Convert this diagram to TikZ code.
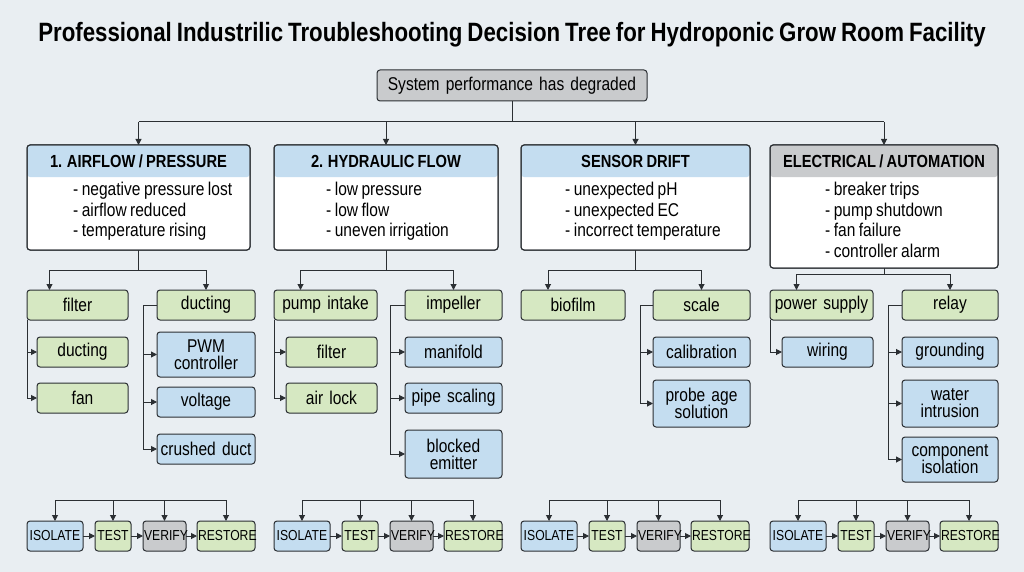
\documentclass[tikz,border=0pt]{standalone}
\usepackage{fontspec}
\setmainfont{Liberation Sans}[FakeStretch=0.84,WordSpace=0.8]
\usetikzlibrary{arrows.meta}
\definecolor{bg}{HTML}{E9EEF2}
\definecolor{gfill}{HTML}{D6E8C2}
\definecolor{bfill}{HTML}{C4DDF0}
\definecolor{gray1}{HTML}{C9CBCD}
\definecolor{lnc}{HTML}{2B2F33}
\tikzset{
 base/.style={draw=lnc,line width=1pt,rounded corners=3pt,inner sep=1pt,outer sep=0pt,align=center,font=\fontsize{18.5}{18}\selectfont},
 gb/.style={base,fill=gfill},
 bb/.style={base,fill=bfill},
 yb/.style={base,fill=gray1},
 arr/.style={draw=lnc,line width=1pt,-{Triangle[length=6pt,width=6pt]}},
 ln/.style={draw=lnc,line width=1pt},
 hdr/.style={base,fill=white},
}
\newcommand\bx[7]{\node[#1,minimum width={(#3)-(#2)},minimum height={(#5)-(#4)},text width={(#3)-(#2)-2}] (#6) at ({((#2)+(#3))/2},{((#4)+(#5))/2}) {#7};}
\newcommand\hdrbox[9]{%
 \node[hdr,minimum width={#3-#2},minimum height={#5-#4},path picture={\fill[#1] (path picture bounding box.north west) rectangle ([yshift=-32pt]path picture bounding box.north east);}] (#6) at ({(#2+#3)/2},{(#4+#5)/2}) {};
 \draw[draw=lnc,line width=1pt,rounded corners=3pt] (#6.north west) rectangle (#6.south east);
 \node[font=\bfseries\fontsize{17.5}{19}\selectfont] (#6t) at ({(#2+#3)/2},{#4+16}) {#7};
 \node[align=left,anchor=north west,font=\fontsize{18.5}{20.5}\selectfont,inner sep=0] (#6b) at ({#2+#9},{#4+37}) {#8};
}
\newcommand\steps[2]{%
 \bx{bb}{27+#1}{83+#1}{521}{551}{#2i}{\fontsize{14.5}{15}\selectfont ISOLATE}
 \bx{gb}{95+#1}{131+#1}{521}{551}{#2t}{\fontsize{14.5}{15}\selectfont TEST}
 \bx{yb}{143+#1}{186+#1}{521}{551}{#2v}{\fontsize{14.5}{15}\selectfont VERIFY}
 \bx{gb}{197+#1}{255+#1}{521}{551}{#2r}{\fontsize{14.5}{15}\selectfont RESTORE}
 \draw[ln] ([yshift=21pt]#2i.north) -- ([yshift=21pt]#2r.north);
 \foreach \s in {i,t,v,r} {\draw[arr] ([yshift=21pt]#2\s.north) -- (#2\s.north);}
 \draw[arr] (#2i) -- (#2t); \draw[arr] (#2t) -- (#2v); \draw[arr] (#2v) -- (#2r);
}
\begin{document}
\begin{tikzpicture}[x=1pt,y=-1pt]
\fill[bg] (0,0) rectangle (1024,572);
\useasboundingbox (0,0) rectangle (1024,572);
\node[font=\bfseries\fontsize{26.5}{28}\selectfont] (title) at (512,35) {Professional Industrilic Troubleshooting Decision Tree for Hydroponic Grow Room Facility};
\bx{yb}{377}{647}{70}{101}{root}{System performance has degraded}

\hdrbox{bfill}{27}{250}{145}{250}{h1}{1. AIRFLOW / PRESSURE}{- negative pressure lost\\- airflow reduced\\- temperature rising}{46}
\hdrbox{bfill}{274}{498}{145}{250}{h2}{2. HYDRAULIC FLOW}{- low pressure\\- low flow\\- uneven irrigation}{52}
\hdrbox{bfill}{521}{750}{145}{250}{h3}{SENSOR DRIFT}{- unexpected pH\\- unexpected EC\\- incorrect temperature}{44}
\hdrbox{gray1}{770}{998}{145}{268}{h4}{ELECTRICAL / AUTOMATION}{- breaker trips\\- pump shutdown\\- fan failure\\- controller alarm}{55}

\draw[ln] (root.south) -- ++(0,21);
\draw[ln] ([yshift=-21pt]root.south -| h1.north) -- ([yshift=-21pt]root.south -| h4.north);
\foreach \h in {h1,h2,h3,h4} {\draw[arr] ([yshift=-21pt]root.south -| \h.north) -- (\h.north);}

% column 1
\bx{gb}{27}{128}{290}{320}{c1a}{filter}
\bx{gb}{157}{255}{290}{320}{c1b}{ducting}
\bx{gb}{37}{128}{337}{367}{c1a1}{ducting}
\bx{gb}{37}{128}{383}{413}{c1a2}{fan}
\bx{bb}{157}{255}{332}{377}{c1b1}{PWM\\[-1pt]controller}
\bx{bb}{157}{255}{387}{417}{c1b2}{voltage}
\bx{bb}{157}{255}{434}{464}{c1b3}{crushed duct}
\draw[ln] (h1.south) -- ++(0,20);
\draw[arr] ([yshift=-20pt]h1.south) -| ([xshift=-28pt]c1a.north);
\draw[arr] ([yshift=-20pt]h1.south) -| (c1b.north);
\draw[arr] (c1a.south west) |- (c1a1.west);
\draw[arr] (c1a.south west) |- (c1a2.west);
\draw[ln] (c1b.west) -- ++(-14,0) coordinate (k1);
\foreach \n in {c1b1,c1b2,c1b3} {\draw[arr] (k1) |- (\n.west);}

% column 2
\bx{gb}{274}{377}{290}{320}{c2a}{pump intake}
\bx{gb}{405}{502}{290}{320}{c2b}{impeller}
\bx{gb}{286}{377}{337}{367}{c2a1}{filter}
\bx{gb}{286}{377}{383}{413}{c2a2}{air lock}
\bx{bb}{405}{502}{337}{367}{c2b1}{manifold}
\bx{bb}{405}{502}{383}{413}{c2b2}{pipe scaling}
\bx{bb}{405}{502}{430}{478}{c2b3}{blocked\\[-1pt]emitter}
\draw[ln] (h2.south) -- ++(0,20);
\draw[arr] ([yshift=-20pt]h2.south) -| ([xshift=-25pt]c2a.north);
\draw[arr] ([yshift=-20pt]h2.south) -| (c2b.north);
\draw[arr] (c2a.south west) |- (c2a1.west);
\draw[arr] (c2a.south west) |- (c2a2.west);
\draw[ln] (c2b.west) -- ++(-15,0) coordinate (k2);
\foreach \n in {c2b1,c2b2,c2b3} {\draw[arr] (k2) |- (\n.west);}

% column 3
\bx{gb}{521}{625}{290}{320}{c3a}{biofilm}
\bx{gb}{653}{750}{290}{320}{c3b}{scale}
\bx{bb}{653}{750}{337}{367}{c3b1}{calibration}
\bx{bb}{653}{750}{380}{427}{c3b2}{probe age\\[-1pt]solution}
\draw[ln] (h3.south) -- ++(0,20);
\draw[arr] ([yshift=-20pt]h3.south) -| ([xshift=-25pt]c3a.north);
\draw[arr] ([yshift=-20pt]h3.south) -| (c3b.north);
\draw[ln] (c3b.west) -- ++(-13,0) coordinate (k3);
\foreach \n in {c3b1,c3b2} {\draw[arr] (k3) |- (\n.west);}

% column 4
\bx{gb}{770}{873}{290}{320}{c4a}{power supply}
\bx{gb}{902}{998}{290}{320}{c4b}{relay}
\bx{bb}{782}{873}{337}{367}{c4a1}{wiring}
\bx{bb}{902}{998}{337}{367}{c4b1}{grounding}
\bx{bb}{902}{998}{380}{427}{c4b2}{water\\[-1pt]intrusion}
\bx{bb}{902}{998}{437}{482}{c4b3}{component\\[-1pt]isolation}
\draw[ln] (h4.south) -- ++(0,6);
\draw[arr] ([yshift=-6pt]h4.south) -| ([xshift=-25pt]c4a.north);
\draw[arr] ([yshift=-6pt]h4.south) -| (c4b.north);
\draw[arr] (c4a.south west) |- (c4a1.west);
\draw[ln] (c4b.west) -- ++(-14,0) coordinate (k4);
\foreach \n in {c4b1,c4b2,c4b3} {\draw[arr] (k4) |- (\n.west);}

\steps{0}{s1}
\steps{247}{s2}
\steps{494}{s3}
\steps{743}{s4}
\end{tikzpicture}
\end{document}
